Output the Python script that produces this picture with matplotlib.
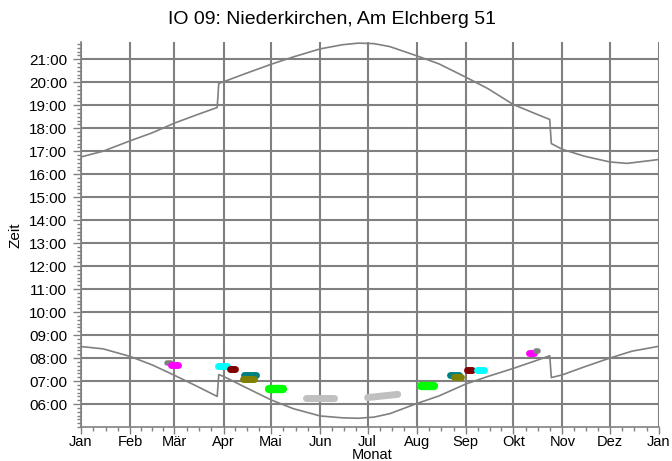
import matplotlib
matplotlib.use("Agg")
import matplotlib.pyplot as plt
from matplotlib.ticker import FixedLocator

plt.rcParams['font.family'] = ['Liberation Sans', 'DejaVu Sans']

# ---- data (day of year, hour of day) ----
month_starts = [0, 31, 59, 90, 120, 151, 181, 212, 243, 273, 304, 334, 365]
month_labels = ["Jan", "Feb", "Mär", "Apr", "Mai", "Jun", "Jul", "Aug",
                "Sep", "Okt", "Nov", "Dez", "Jan"]
hour_ticks = list(range(6, 22))

sunset_days = [0, 14, 31, 45, 59, 73, 86, 87, 90, 104, 120, 134, 151, 165,
               175, 185, 195, 212, 226, 243, 257, 273, 287, 296, 297, 304,
               318, 334, 345, 364]
sunset_hours = [16.75, 17.00, 17.45, 17.80, 18.22, 18.58, 18.90, 19.95, 20.02,
                20.38, 20.78, 21.10, 21.45, 21.63, 21.70, 21.68, 21.55, 21.15,
                20.80, 20.22, 19.72, 19.03, 18.63, 18.38, 17.33, 17.08, 16.78,
                16.53, 16.47, 16.63]

sunrise_days = [0, 14, 31, 45, 59, 73, 86, 87, 90, 104, 120, 134, 151, 165,
                175, 185, 195, 212, 226, 243, 257, 273, 287, 296, 297, 304,
                318, 334, 348, 364]
sunrise_hours = [8.50, 8.40, 8.07, 7.70, 7.25, 6.78, 6.33, 7.28, 7.20, 6.72,
                 6.18, 5.80, 5.48, 5.40, 5.38, 5.43, 5.58, 6.02, 6.35, 6.87,
                 7.20, 7.55, 7.88, 8.10, 7.15, 7.27, 7.62, 8.00, 8.30, 8.50]

# shadow periods: start/end day and start/end hour
blob_day_start = [54, 57, 86.5, 94, 103, 102, 119, 142, 181, 215, 233, 235.5, 244, 250, 283, 287.5]
blob_day_end = [57, 61, 92, 97, 110.5, 109, 127.5, 160, 200, 223, 239, 240, 247, 254.5, 286, 288.5]
blob_hour_start = [7.79, 7.68, 7.66, 7.53, 7.26, 7.09, 6.65, 6.25, 6.28, 6.80, 7.28, 7.17, 7.47, 7.47, 8.23, 8.30]
blob_hour_end = [7.79, 7.68, 7.66, 7.53, 7.26, 7.09, 6.65, 6.25, 6.42, 6.80, 7.28, 7.17, 7.47, 7.47, 8.23, 8.30]
blob_colors = ["#808080", "#ff00ff", "#00ffff", "#800000", "#008080", "#808000",
               "#00ff00", "#c0c0c0", "#c0c0c0", "#00ff00", "#008080", "#808000",
               "#800000", "#00ffff", "#ff00ff", "#808080"]
blob_widths = [4, 5, 5, 5, 5, 5, 6, 5, 5, 6, 5, 5, 5, 5, 5, 4]

title = "IO 09: Niederkirchen, Am Elchberg 51"

# ---- figure ----
W, H = 672, 461
fig = plt.figure(figsize=(W / 100, H / 100), dpi=100)
ax = fig.add_axes([81 / W, 1 - 427 / H, (659 - 81) / W, (427 - 42) / H])

ax.set_xlim(0, 365)
ax.set_ylim(5.0, 21.75)

grid_c = "#808080"
ax.xaxis.set_major_locator(FixedLocator(month_starts))
ax.set_xticklabels(month_labels, fontsize=10.5)
minor_x = []
for a, b in zip(month_starts[:-1], month_starts[1:]):
    for k in (1, 2, 3):
        minor_x.append(a + (b - a) * k / 4)
ax.xaxis.set_minor_locator(FixedLocator(minor_x))

ax.yaxis.set_major_locator(FixedLocator(hour_ticks))
ax.set_yticklabels([f"{h:02d}:00" for h in hour_ticks], fontsize=11)
minor_y = [5 + i / 6 for i in range(0, int(16.75 * 6) + 1)]
ax.yaxis.set_minor_locator(FixedLocator(minor_y))

ax.grid(True, which="major", color=grid_c, linewidth=1.5, zorder=0)
ax.set_axisbelow(True)
for s in ("top", "right"):
    ax.spines[s].set_visible(False)
for s in ("left", "bottom"):
    ax.spines[s].set_color(grid_c)
    ax.spines[s].set_linewidth(1.2)
ax.tick_params(axis="y", which="major", direction="out", length=6, width=1, color=grid_c, pad=4)
ax.tick_params(axis="x", which="major", direction="out", length=5, width=1, color=grid_c, pad=1)
ax.tick_params(which="minor", direction="out", length=3, width=1, color=grid_c)

ax.plot(sunset_days, sunset_hours, color="#808080", lw=1.2, zorder=3)
ax.plot(sunrise_days, sunrise_hours, color="#808080", lw=1.2, zorder=3)

for d0, d1, h0, h1, c, w in zip(blob_day_start, blob_day_end, blob_hour_start,
                                 blob_hour_end, blob_colors, blob_widths):
    ax.plot([d0, d1], [h0, h1], color=c, lw=w, solid_capstyle="round", zorder=4)

fig.text(332 / W, 1 - 20 / H, title, ha="center", va="center", fontsize=14)
fig.text(372 / W, 1 - 455 / H, "Monat", ha="center", va="center", fontsize=10.5)
fig.text(15 / W, 1 - 235 / H, "Zeit", ha="center", va="center", rotation=90, fontsize=11)

fig.savefig("out.png", dpi=100)
